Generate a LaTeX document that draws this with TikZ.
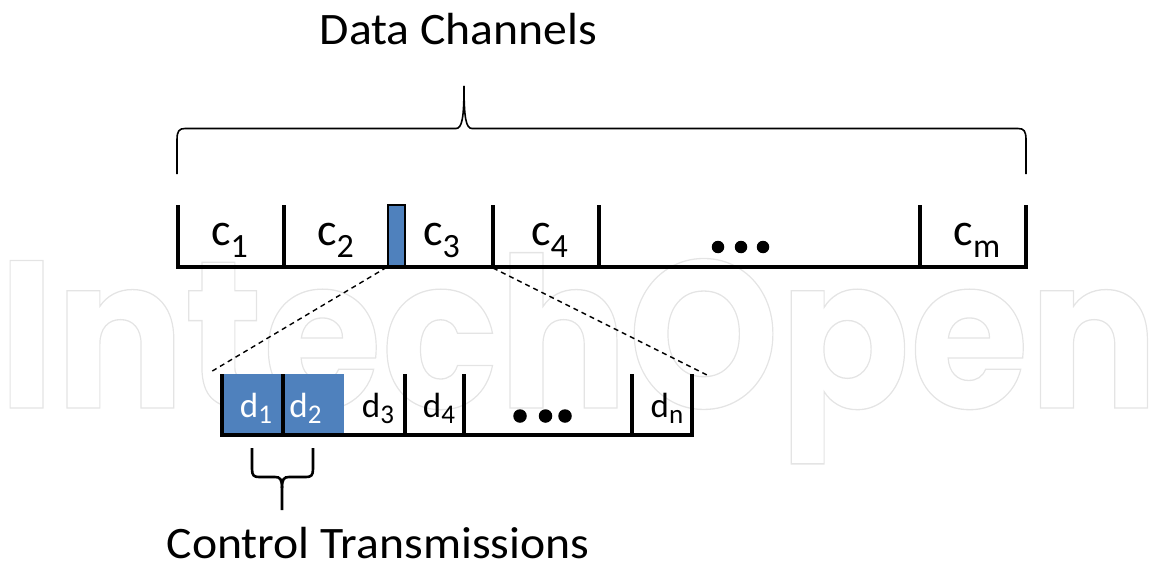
\documentclass[tikz,border=0pt]{standalone}
\usepackage{fontspec}
\setmainfont{Carlito}
\newfontfamily\wmfont{Poppins}
\definecolor{cellblue}{RGB}{79,129,189}
\definecolor{wmgray}{RGB}{228,228,228}
\newcommand{\clab}[2]{\fontsize{46}{50}\selectfont #1\raisebox{-12pt}{\fontsize{34}{36}\selectfont #2}}
\newcommand{\dlab}[2]{\fontsize{35}{40}\selectfont #1\raisebox{-6pt}{\fontsize{27}{30}\selectfont #2}}
\newcommand{\outlinetext}[1]{\special{pdf:literal direct 1 Tr 1.3 w}#1\special{pdf:literal direct 0 Tr}}
\newcommand{\bigtext}[1]{\scalebox{1.06}[1]{\fontsize{45}{50}\selectfont #1}}
\tikzset{
  bar/.style={line width=3.2pt, line cap=rect},
  divider/.style={line width=3.2pt},
  zoomline/.style={line width=1.4pt, dash pattern=on 5pt off 4pt},
  bigbrace/.style={line width=1.6pt},
  smallbrace/.style={line width=2.6pt},
  lbl/.style={anchor=base, inner sep=0pt},
  dotmark/.style={circle, fill=black, inner sep=0pt, minimum size=12.5pt},
}
\begin{document}
\begin{tikzpicture}[x=1pt,y=-1pt]
\useasboundingbox (0,0) rectangle (1150,567);
% watermark
\node[anchor=base west, inner sep=0pt, text=wmgray] (wm) at (-2,408)
  {\scalebox{0.917}[1]{\wmfont\bfseries\fontsize{210}{210}\selectfont\outlinetext{IntechOpen}}};

% title and top brace
\node[lbl] (title) at (458.5,45) {\bigtext{Data Channels}};
\draw[bigbrace] (177,174) -- (177,140) .. controls (177,131) and (179,128.5) .. (185,128.5)
  -- (456,128.5) .. controls (462,128.5) and (464,118) .. (464,86);
\draw[bigbrace] (1026,174) -- (1026,140) .. controls (1026,131) and (1024,128.5) .. (1018,128.5)
  -- (472,128.5) .. controls (466,128.5) and (464,118) .. (464,86);

% top bar
\draw[bar] (178,267) -- (1026,267);
\foreach \x in {178,284,493,599,920,1026} \draw[divider] (\x,205) -- (\x,267);
\node[draw, fill=cellblue, line width=2.5pt, minimum width=17pt, minimum height=61pt, inner sep=0pt] (blk) at (396.5,235.5) {};
\node[lbl] (c1) at (229.5,245) {\clab{c}{1}};
\node[lbl] (c2) at (335.5,245) {\clab{c}{2}};
\node[lbl] (c3) at (441.5,245) {\clab{c}{3}};
\node[lbl] (c4) at (549.5,245) {\clab{c}{4}};
\node[lbl] (cm) at (977,245) {\clab{c}{m}};
\node[dotmark] (tdot1) at (718,247) {};
\node[dotmark] (tdot2) at (741,247) {};
\node[dotmark] (tdot3) at (763,247) {};

% zoom lines
\coordinate (c3r) at (493,268);
\coordinate (zl) at (209,373);
\coordinate (zr) at (707,375);
\draw[zoomline] (blk.south west) -- (zl);
\draw[zoomline] (c3r) -- (zr);

% bottom bar
\fill[cellblue] (222,374) rectangle (344,435);
\draw[bar] (222,435) -- (692,435);
\foreach \x in {222,283,405,464,632,692} \draw[divider] (\x,374) -- (\x,435);
\node[lbl, text=white] (d1) at (256,417) {\dlab{d}{1}};
\node[lbl, text=white] (d2) at (305.5,417) {\dlab{d}{2}};
\node[lbl] (d3) at (378,417) {\dlab{d}{3}};
\node[lbl] (d4) at (439,417) {\dlab{d}{4}};
\node[lbl] (dn) at (667,417) {\dlab{d}{n}};
\node[dotmark, minimum size=13.5pt] (bdot1) at (520,416) {};
\node[dotmark, minimum size=13.5pt] (bdot2) at (545.5,416) {};
\node[dotmark, minimum size=13.5pt] (bdot3) at (565,416) {};

% bottom brace and label
\draw[smallbrace] (252,448) -- (252,469) .. controls (252,475.5) and (254,477) .. (259,477)
  -- (275,477) .. controls (280,477) and (282,479) .. (282,488) -- (282,510);
\draw[smallbrace] (313,448) -- (313,469) .. controls (313,475.5) and (311,477) .. (306,477)
  -- (289,477) .. controls (284,477) and (282,479) .. (282,488);
\node[lbl] (ctrl) at (378,558) {\bigtext{Control Transmissions}};
\end{tikzpicture}
\end{document}
